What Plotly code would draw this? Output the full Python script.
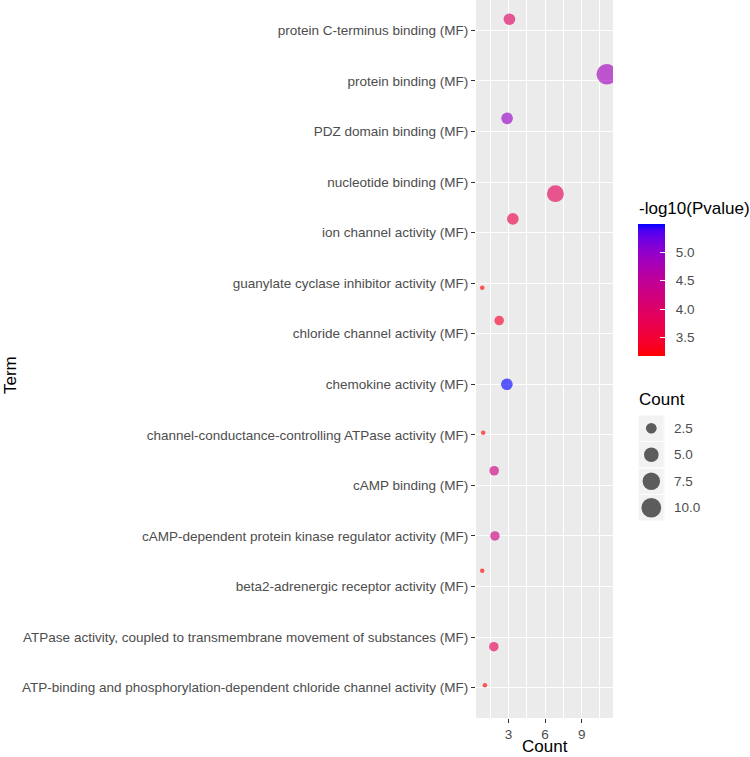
import plotly.graph_objects as go
import numpy as np

# ---------------- data ----------------
terms = [  # top to bottom
    "protein C-terminus binding (MF)",
    "protein binding (MF)",
    "PDZ domain binding (MF)",
    "nucleotide binding (MF)",
    "ion channel activity (MF)",
    "guanylate cyclase inhibitor activity (MF)",
    "chloride channel activity (MF)",
    "chemokine activity (MF)",
    "channel-conductance-controlling ATPase activity (MF)",
    "cAMP binding (MF)",
    "cAMP-dependent protein kinase regulator activity (MF)",
    "beta2-adrenergic receptor activity (MF)",
    "ATPase activity, coupled to transmembrane movement of substances (MF)",
    "ATP-binding and phosphorylation-dependent chloride channel activity (MF)",
]
count = [3, 11, 3, 7, 3, 1, 2, 3, 1, 2, 2, 1, 2, 1]
neglog10p = [3.95, 4.85, 4.95, 3.85, 3.7, 3.18, 3.4, 5.5, 3.18, 4.3, 4.3, 3.18, 3.85, 3.18]
# jitter offsets as plotted (position_jitter)
x_jitter = [0.08, 0.06, -0.11, -0.15, 0.36, -0.15, 0.24, -0.13, -0.07, -0.17, -0.11, -0.15, -0.20, 0.07]
y_jitter = [0.22, 0.13, 0.26, -0.23, 0.27, -0.09, 0.26, 0.0, 0.04, 0.29, 0.0, 0.31, -0.19, 0.05]

size_legend_values = [2.5, 5.0, 7.5, 10.0]
colorbar_ticks = [3.5, 4.0, 4.5, 5.0]
x_tick_vals = [3, 6, 9]

# ---------------- helpers: ggplot-like scales ----------------
def srgb_to_lab(rgb):
    c = np.array(rgb, dtype=float) / 255.0
    c = np.where(c <= 0.04045, c / 12.92, ((c + 0.055) / 1.055) ** 2.4)
    M = np.array([[0.4124, 0.3576, 0.1805],
                  [0.2126, 0.7152, 0.0722],
                  [0.0193, 0.1192, 0.9505]])
    xyz = M @ c
    wp = np.array([0.95047, 1.0, 1.08883])
    t = xyz / wp
    f = np.where(t > (6 / 29) ** 3, np.cbrt(t), t / (3 * (6 / 29) ** 2) + 4 / 29)
    return np.array([116 * f[1] - 16, 500 * (f[0] - f[1]), 200 * (f[1] - f[2])])


def lab_to_srgb(lab):
    L, a, b = lab
    fy = (L + 16) / 116
    fx = fy + a / 500
    fz = fy - b / 200
    f = np.array([fx, fy, fz])
    t = np.where(f > 6 / 29, f ** 3, 3 * (6 / 29) ** 2 * (f - 4 / 29))
    xyz = t * np.array([0.95047, 1.0, 1.08883])
    Minv = np.array([[3.2406, -1.5372, -0.4986],
                     [-0.9689, 1.8758, 0.0415],
                     [0.0557, -0.2040, 1.0570]])
    c = Minv @ xyz
    c = np.clip(c, 0, 1)
    c = np.where(c <= 0.0031308, 12.92 * c, 1.055 * c ** (1 / 2.4) - 0.055)
    r, g, bb = (np.clip(c, 0, 1) * 255).round().astype(int)
    return f"rgb({r},{g},{bb})"


lab_low = srgb_to_lab((255, 0, 0))
lab_high = srgb_to_lab((0, 0, 255))
colorscale = [[t, lab_to_srgb(lab_low + (lab_high - lab_low) * t)] for t in np.linspace(0, 1, 21)]

cmin, cmax = min(neglog10p), max(neglog10p)
smin, smax = min(count), max(count)


def size_px(v):
    # ggplot2 scale_size (area palette, range 1..6) -> pixel diameter
    s = 1 + 5 * np.sqrt((np.asarray(v, dtype=float) - smin) / (smax - smin))
    return 3.2 * s + 1.3


n = len(terms)
xs = [c + j for c, j in zip(count, x_jitter)]
ys = [n - 1 - i + yj for i, yj in enumerate(y_jitter)]

xmin, xmax = min(xs), max(xs)
w = xmax - xmin
xrange = [xmin - 0.05 * w, xmax + 0.05 * w]

FONT = "Liberation Sans, Arial, sans-serif"
W, H = 750, 757
ML, MB = 476, 39
PW, PH = W - ML, H - MB
TICK_FS = 13.5
TITLE_FS = 17
NB = "\u00a0"


def px_x(p):
    return (p - ML) / PW


def px_y(p):
    return 1 - p / PH


fig = go.Figure()

fig.add_trace(go.Scatter(
    x=xs, y=ys, mode="markers",
    marker=dict(
        size=size_px(count), sizemode="diameter",
        color=neglog10p, colorscale=colorscale, cmin=cmin, cmax=cmax,
        opacity=0.64, line=dict(width=0),
        colorbar=dict(
            thickness=27, thicknessmode="pixels",
            len=132, lenmode="pixels",
            x=px_x(638.3), xanchor="left", xpad=0,
            y=px_y(355.7), yanchor="bottom", ypad=0,
            outlinewidth=0,
            tickvals=colorbar_ticks, ticktext=[f"{NB}{NB}{v:.1f}" for v in colorbar_ticks],
            ticks="inside", ticklen=5, tickcolor="white", tickwidth=1,
            tickfont=dict(size=TICK_FS, color="#4D4D4D", family=FONT),
        ),
    ),
    cliponaxis=True, showlegend=False, hoverinfo="skip",
    xaxis="x", yaxis="y",
))

# size legend drawn on a small hidden axis
leg_pos = list(range(len(size_legend_values)))[::-1]
fig.add_trace(go.Scatter(
    x=[0] * len(size_legend_values), y=leg_pos, mode="markers",
    marker=dict(size=size_px(size_legend_values), sizemode="diameter",
                color="black", opacity=0.62, line=dict(width=0)),
    showlegend=False, hoverinfo="skip", xaxis="x2", yaxis="y2",
))

shapes = []
for p in leg_pos:
    shapes.append(dict(type="rect", xref="x2", yref="y2", x0=-1, x1=1, y0=p - 0.5, y1=p + 0.5,
                       fillcolor="#F2F2F2", line=dict(color="white", width=1.2), layer="below"))

fig.update_layout(
    width=W, height=H,
    margin=dict(l=ML, r=0, t=0, b=MB, pad=0),
    paper_bgcolor="white", plot_bgcolor="#EBEBEB",
    font=dict(family=FONT, color="#4D4D4D"),
    xaxis=dict(
        domain=[0, px_x(613)], range=xrange,
        tickvals=x_tick_vals, ticks="outside", ticklen=4, tickcolor="#333333", tickwidth=1,
        tickfont=dict(size=TICK_FS, color="#4D4D4D"),
        showgrid=True, gridcolor="white", gridwidth=1.1, zeroline=False, showline=False,
        minor=dict(dtick=1.5, tick0=0, showgrid=True, gridcolor="white", gridwidth=0.5, ticks=""),
    ),
    yaxis=dict(
        domain=[0, 1], range=[-0.6, n - 1 + 0.6],
        tickvals=list(range(n)), ticktext=terms[::-1],
        ticks="outside", ticklen=4, tickcolor="#333333", tickwidth=1,
        tickfont=dict(size=TICK_FS, color="#4D4D4D"),
        showgrid=True, gridcolor="white", gridwidth=1.1, zeroline=False, showline=False,
    ),
    xaxis2=dict(domain=[px_x(638.3), px_x(664.3)], range=[-1, 1], anchor="y2",
                showgrid=False, zeroline=False, showticklabels=False, ticks=""),
    yaxis2=dict(domain=[px_y(521), px_y(415)], range=[-0.5, len(size_legend_values) - 0.5],
                anchor="x2", side="right",
                tickvals=leg_pos, ticktext=[f"{v:.1f}" for v in size_legend_values],
                ticks="outside", ticklen=6, tickcolor="rgba(0,0,0,0)",
                tickfont=dict(size=TICK_FS, color="#4D4D4D"),
                showgrid=False, zeroline=False, showline=False),
    shapes=shapes,
    annotations=[
        dict(text="Term", x=px_x(10), y=px_y(375), xref="paper", yref="paper",
             textangle=-90, showarrow=False, font=dict(size=TITLE_FS, color="#000000"),
             xanchor="center", yanchor="middle"),
        dict(text="Count", x=px_x(544.5), y=px_y(746.5), xref="paper", yref="paper",
             showarrow=False, font=dict(size=TITLE_FS, color="#000000"),
             xanchor="center", yanchor="middle"),
        dict(text="-log10(Pvalue)", x=px_x(637), y=px_y(208), xref="paper", yref="paper",
             showarrow=False, font=dict(size=TITLE_FS, color="#000000"),
             xanchor="left", yanchor="middle"),
        dict(text="Count", x=px_x(637), y=px_y(399), xref="paper", yref="paper",
             showarrow=False, font=dict(size=TITLE_FS, color="#000000"),
             xanchor="left", yanchor="middle"),
    ],
)

fig.write_html("out.html", config={"displayModeBar": False},
               post_script="document.body.style.margin='0px';")
